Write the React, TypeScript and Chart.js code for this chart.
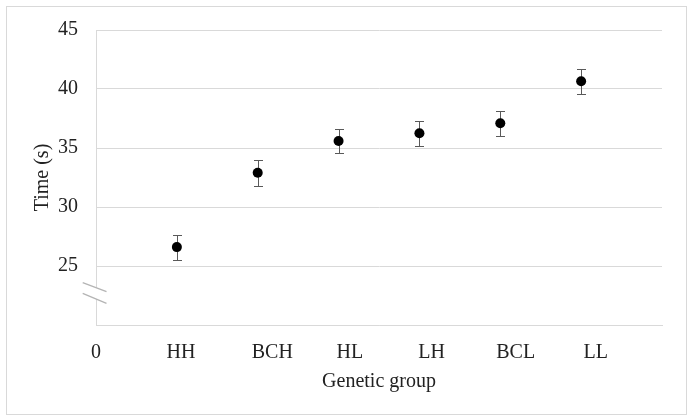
import React, { useEffect, useRef } from "react";
import { Chart, registerables } from "chart.js";

Chart.register(...registerables);

// ---- data ----
const groups = ["HH", "BCH", "HL", "LH", "BCL", "LL"];
const groupX = [1, 2, 3, 4, 5, 6];
const timeMeans = [26.6, 32.9, 35.6, 36.25, 37.1, 40.65];
const timeErrors = [1.05, 1.1, 1.0, 1.05, 1.05, 1.05];
const xTickLabels = ["0", ...groups];
const xTickPositions = [0, 1.05, 2.18, 3.14, 4.15, 5.19, 6.18];
const yMin = 20;
const yMax = 45;
const yStep = 5;
const axisBreakValue = 22.75;

const FONT = { family: "'Liberation Serif', 'Times New Roman', serif", size: 20 };
const TEXT = "#222222";
const GRID = "#d9d9d9";

const errorBarPlugin = {
  id: "errorBars",
  beforeDatasetsDraw(chart: any) {
    const { ctx, scales } = chart;
    const x = scales.x;
    const y = scales.y;
    ctx.save();
    ctx.strokeStyle = "#595959";
    ctx.lineWidth = 1;
    groupX.forEach((gx, i) => {
      const px = Math.round(x.getPixelForValue(gx)) + 0.5;
      const top = Math.round(y.getPixelForValue(timeMeans[i] + timeErrors[i])) + 0.5;
      const bot = Math.round(y.getPixelForValue(timeMeans[i] - timeErrors[i])) + 0.5;
      ctx.beginPath();
      ctx.moveTo(px, top);
      ctx.lineTo(px, bot);
      ctx.moveTo(px - 4.5, top);
      ctx.lineTo(px + 4.5, top);
      ctx.moveTo(px - 4.5, bot);
      ctx.lineTo(px + 4.5, bot);
      ctx.stroke();
    });
    ctx.restore();
  },
};

const axisBreakPlugin = {
  id: "axisBreak",
  afterDraw(chart: any) {
    const { ctx, scales } = chart;
    const cx = scales.x.getPixelForValue(0);
    const cy = scales.y.getPixelForValue(axisBreakValue);
    ctx.save();
    ctx.fillStyle = "#ffffff";
    ctx.fillRect(cx - 2, cy - 5, 4, 11.5);
    ctx.strokeStyle = "#b4b4b4";
    ctx.lineWidth = 1.3;
    ctx.beginPath();
    ctx.moveTo(cx - 13.3, cy - 10);
    ctx.lineTo(cx + 10.5, cy - 1);
    ctx.moveTo(cx - 13.3, cy + 0.8);
    ctx.lineTo(cx + 10.5, cy + 10.8);
    ctx.stroke();
    ctx.restore();
  },
};

export default function App() {
  const canvasRef = useRef<HTMLCanvasElement | null>(null);

  useEffect(() => {
    if (!canvasRef.current) return;
    const chart = new Chart(canvasRef.current, {
      type: "scatter",
      data: {
        datasets: [
          {
            data: groupX.map((gx, i) => ({ x: gx, y: timeMeans[i] })),
            backgroundColor: "#000000",
            borderColor: "#000000",
            pointRadius: 5,
            pointHoverRadius: 5,
            borderWidth: 0,
          },
        ],
      },
      options: {
        animation: false,
        responsive: false,
        devicePixelRatio: 1,
        layout: { padding: { top: 28, right: 30, bottom: 0, left: 0 } },
        plugins: { legend: { display: false }, tooltip: { enabled: false } },
        scales: {
          x: {
            type: "linear",
            min: 0,
            max: 7,
            afterFit: (s: any) => {
              s.height = 95;
            },
            afterBuildTicks: (s: any) => {
              s.ticks = xTickPositions.map((v) => ({ value: v }));
            },
            grid: { display: false, drawTicks: false },
            border: { display: true, color: GRID },
            ticks: {
              autoSkip: false,
              maxRotation: 0,
              padding: 16,
              font: FONT,
              color: TEXT,
              callback: (_v: any, i: number) => xTickLabels[i] ?? "",
            },
            title: {
              display: true,
              text: "Genetic group",
              font: FONT,
              color: TEXT,
              padding: { top: 0, bottom: 26 },
            },
          },
          y: {
            type: "linear",
            min: yMin,
            max: yMax,
            afterFit: (s: any) => {
              s.width = 96;
            },
            grid: { color: GRID, drawTicks: false },
            border: { display: true, color: GRID },
            ticks: {
              stepSize: yStep,
              padding: 18,
              font: FONT,
              color: TEXT,
              callback: (v: any) => (v === yMin ? "" : String(v)),
            },
            title: {
              display: true,
              text: "Time (s)",
              font: FONT,
              color: TEXT,
              padding: { top: 31, bottom: 0 },
            },
          },
        },
      },
      plugins: [errorBarPlugin, axisBreakPlugin],
    } as any);
    return () => chart.destroy();
  }, []);

  return (
    <div
      style={{
        position: "fixed",
        left: 0,
        top: 0,
        width: 692,
        height: 420,
        background: "#ffffff",
      }}
    >
      <div
        style={{
          position: "absolute",
          left: 6,
          top: 6,
          width: 681,
          height: 409,
          boxSizing: "border-box",
          border: "1px solid #d9d9d9",
        }}
      />
      <canvas
        ref={canvasRef}
        width={692}
        height={420}
        style={{ position: "absolute", left: 0, top: 0, width: 692, height: 420 }}
      />
    </div>
  );
}
